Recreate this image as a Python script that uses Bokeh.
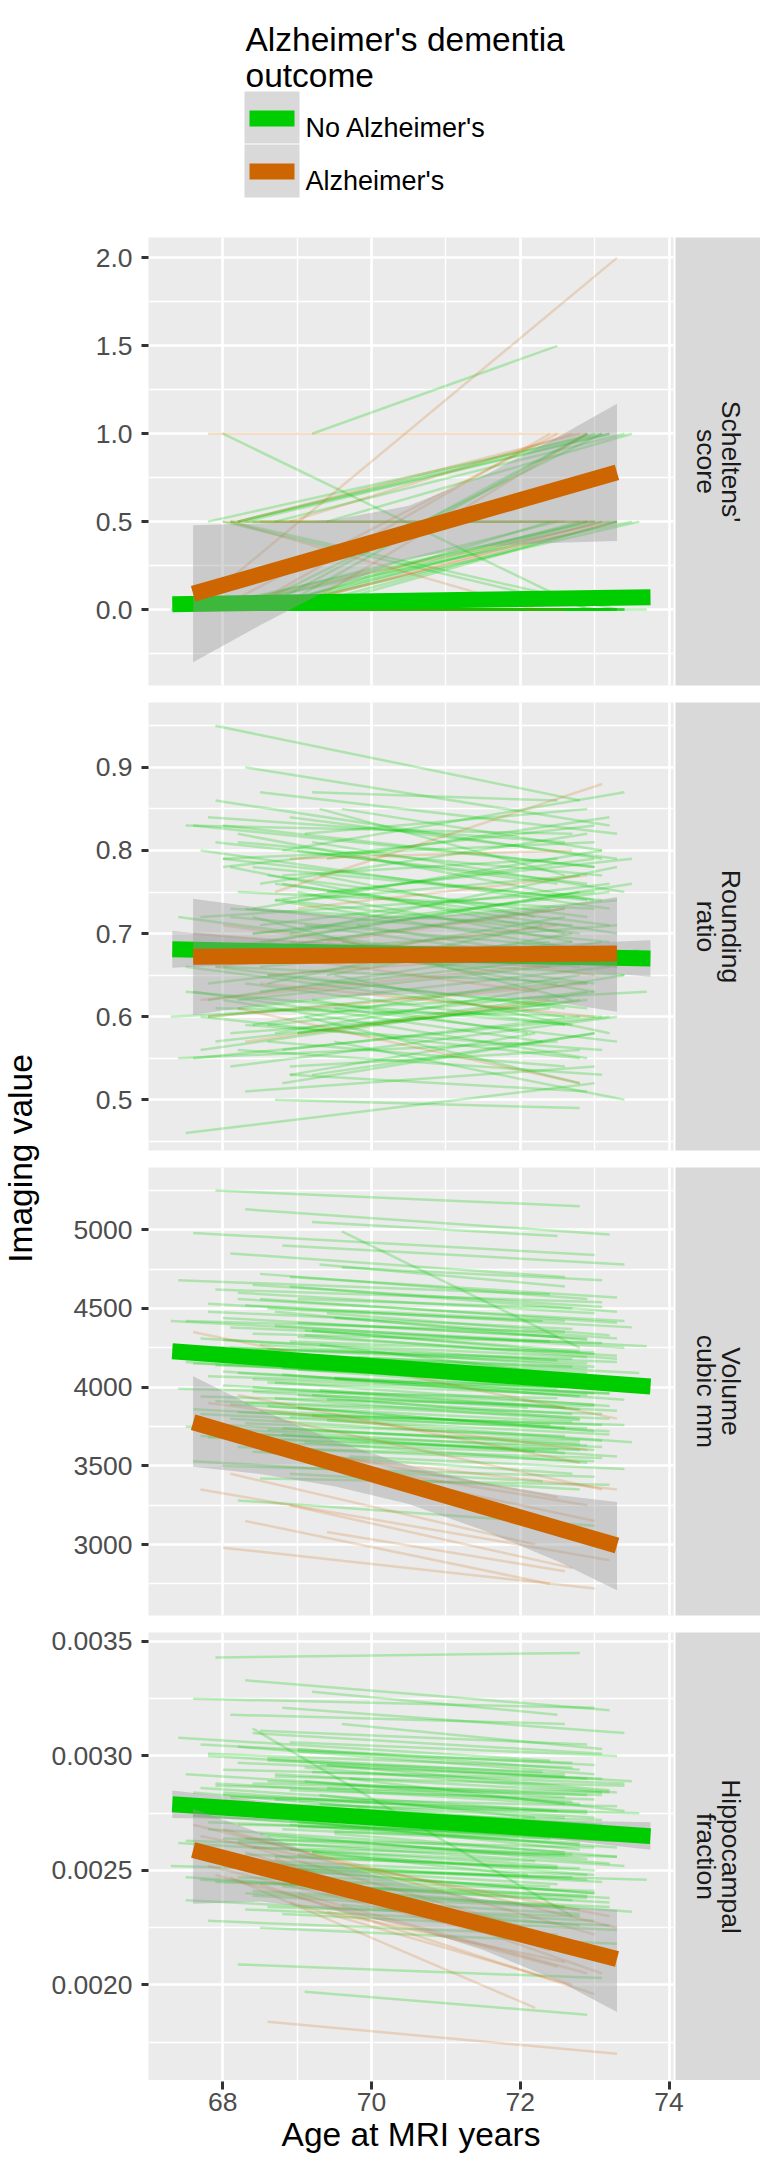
import math
from bokeh.plotting import figure
from bokeh.layouts import column, row
from bokeh.models import Range1d, FixedTicker, Label, PrintfTickFormatter
from bokeh.embed import file_html
from bokeh.resources import INLINE

FONT = "Liberation Sans"
GREEN = "#00CD00"
ORANGE = "#CD6600"
PANEL_BG = "#EBEBEB"
STRIP_BG = "#D9D9D9"
KEY_BG = "#D9D9D9"

# ---------------- data ----------------
GROUPS = ["No Alzheimer's", "Alzheimer's"]
LEGEND_TITLE = ["Alzheimer's dementia", "outcome"]
X_TITLE = "Age at MRI years"
Y_TITLE = "Imaging value"
X_TICKS = [68, 70, 72, 74]
X_MINOR = [67, 69, 71, 73]
X_LIMITS = (67.0, 74.06)

# ages at first / last MRI per participant
AGE_START_NO = [67.9, 68.3, 69.2, 67.6, 68.8, 68.1, 69.6, 68.5, 67.4, 68.9,
                68.2, 69.0, 67.8, 68.6, 69.4, 68.0, 67.5, 68.7, 69.1, 68.4,
                67.7, 68.9, 69.3, 68.1, 67.9, 68.5, 69.8, 68.3, 67.6, 68.8,
                69.0, 68.2, 67.8, 69.5, 68.6, 68.0, 67.4, 68.4, 69.2, 68.7,
                67.9, 68.1, 69.0, 68.5, 67.7, 68.9, 69.4, 68.3, 67.5, 68.6,
                68.8, 67.8, 69.1, 68.2, 68.4, 69.7, 67.6, 68.0, 68.9, 68.5,
                69.3, 67.9, 68.7, 68.1, 69.0, 67.5, 68.3, 68.8, 69.5, 68.4,
                67.7, 68.6, 69.2, 68.0, 67.8, 68.9, 68.2, 69.6, 68.5, 67.3,
                68.4, 67.8, 69.1, 68.6, 68.0, 69.3, 67.6, 68.8, 68.2, 69.0,
                68.5, 67.9, 68.7, 69.4, 68.1, 67.7, 68.9, 68.3, 69.2, 68.6,
                67.5, 68.4, 69.0, 68.2, 67.9, 68.7, 69.5, 68.0, 68.8, 68.3]
AGE_END_NO = [72.8, 73.2, 72.5, 73.0, 73.4, 72.6, 73.1, 72.9, 72.4, 73.3,
              73.0, 72.7, 73.5, 72.3, 73.2, 72.9, 72.6, 73.4, 72.8, 73.1,
              72.5, 73.0, 72.2, 73.3, 72.9, 73.6, 72.7, 73.1, 72.4, 73.0,
              72.8, 73.2, 72.6, 73.4, 72.9, 73.0, 72.5, 73.3, 72.1, 72.8,
              73.1, 72.7, 73.0, 72.4, 73.2, 72.9, 73.5, 72.6, 73.0, 72.8,
              73.3, 72.5, 72.9, 73.1, 72.7, 73.4, 72.3, 73.0, 72.8, 73.2,
              72.6, 73.1, 72.9, 72.4, 73.3, 72.7, 73.0, 72.5, 73.2, 72.8,
              73.0, 72.6, 73.4, 72.9, 73.1, 72.2, 73.0, 72.8, 73.3, 73.7,
              73.1, 72.7, 73.3, 72.9, 73.0, 72.6, 73.2, 72.8, 73.4, 72.5,
              73.0, 72.9, 73.2, 72.7, 73.1, 72.8, 73.3, 72.6, 73.0, 72.9,
              72.7, 73.2, 72.8, 73.1, 72.6, 73.0, 73.3, 72.9, 72.8, 73.2]
AGE_START_AD = [67.6, 68.2, 68.7, 67.9, 68.5, 69.0, 68.1, 67.7, 68.9, 68.3, 69.4, 68.0, 68.6, 67.8]
AGE_END_AD = [73.3, 72.8, 73.1, 72.5, 73.0, 72.9, 72.2, 73.2, 72.7, 72.4, 72.6, 73.0, 73.3, 72.9]

# Scheltens' score
SCH_START_NO = [0, 0.5, 1.0, 0, 0, 0.5, 0, 0, 0, 0,
                0.5, 0, 0, 0, 0, 1.0, 0, 0.5, 0, 0,
                0, 0, 0, 0.5, 0, 0, 0, 0, 0, 0,
                0, 0.5, 0, 0, 0, 0, 0, 0.5, 0, 0,
                0, 0, 0, 0, 0, 0, 0.5, 0, 0, 0,
                0, 0, 0, 0, 0, 0, 0, 0.5, 0, 0,
                0, 0, 0, 0, 0, 0, 0, 0, 0, 0,
                0, 0, 0, 0, 0.5, 0, 0, 0, 0, 0,
                0, 0, 0, 0, 0, 0, 0, 0, 0, 0,
                0, 0, 0, 0, 0, 0, 0, 0, 0, 0,
                0, 0, 0, 0, 0, 0, 0, 0, 0, 0]
SCH_END_NO = [0, 1.0, 1.5, 0.5, 0, 0.5, 0, 1.0, 0, 0.5,
              1.0, 0, 0.5, 0, 0, 0, 0, 1.0, 0, 0.5,
              0, 0, 0, 0, 0, 0.5, 0, 1.0, 0, 0,
              0, 1.0, 0, 0, 0.5, 0, 0, 0.5, 0, 0,
              0, 0, 0, 0.5, 0, 0, 1.0, 0, 0, 0,
              0, 0.5, 0, 0, 0, 0, 0, 0, 0, 0,
              0, 0, 1.0, 0, 0, 0, 0, 0, 0, 0.5,
              0, 0, 0, 0, 1.0, 0, 0, 0, 0, 0,
              0, 0, 0.5, 0, 0, 0, 0, 0, 0, 0,
              0, 0.5, 0, 0, 0, 0, 0, 0, 0, 0,
              0, 0, 0, 0, 0, 0, 0, 0, 0, 0]
SCH_START_AD = [0, 0.5, 0, 0, 0.5, 0, 0.5, 0, 0.5, 0, 0, 0.5, 0, 1.0]
SCH_END_AD = [2.0, 1.0, 0.5, 1.0, 0.5, 1.0, 0.0, 0.5, 1.0, 1.0, 0, 0.5, 0.5, 1.0]

# Rounding ratio
RND_START_NO = [0.95, 0.90, 0.87, 0.83, 0.80, 0.78, 0.85, 0.76, 0.72, 0.70,
                0.82, 0.75, 0.68, 0.64, 0.79, 0.62, 0.66, 0.58, 0.60, 0.73,
                0.56, 0.69, 0.77, 0.54, 0.81, 0.63, 0.71, 0.59, 0.67, 0.52,
                0.74, 0.61, 0.84, 0.57, 0.65, 0.78, 0.55, 0.70, 0.62, 0.50,
                0.86, 0.73, 0.58, 0.66, 0.80, 0.53, 0.75, 0.64, 0.46, 0.69,
                0.76, 0.60, 0.82, 0.56, 0.72, 0.67, 0.63, 0.79, 0.54, 0.71,
                0.85, 0.61, 0.74, 0.58, 0.68, 0.83, 0.51, 0.77, 0.65, 0.59,
                0.72, 0.57, 0.81, 0.66, 0.62, 0.53, 0.75, 0.69, 0.87, 0.60,
                0.78, 0.64, 0.71, 0.59, 0.83, 0.67, 0.55, 0.74, 0.62, 0.80,
                0.69, 0.57, 0.76, 0.65, 0.72, 0.60, 0.84, 0.68, 0.53, 0.77,
                0.63, 0.70, 0.58, 0.81, 0.66, 0.74, 0.61, 0.79, 0.56, 0.73]
RND_END_NO = [0.86, 0.83, 0.86, 0.78, 0.87, 0.70, 0.80, 0.82, 0.66, 0.78,
              0.74, 0.69, 0.76, 0.71, 0.84, 0.55, 0.60, 0.65, 0.52, 0.80,
              0.62, 0.63, 0.72, 0.60, 0.76, 0.68, 0.67, 0.56, 0.73, 0.58,
              0.77, 0.66, 0.81, 0.50, 0.61, 0.83, 0.57, 0.74, 0.58, 0.49,
              0.79, 0.71, 0.63, 0.69, 0.73, 0.51, 0.79, 0.59, 0.52, 0.75,
              0.70, 0.64, 0.85, 0.53, 0.62, 0.65, 0.57, 0.81, 0.56, 0.76,
              0.77, 0.60, 0.68, 0.61, 0.71, 0.82, 0.54, 0.79, 0.58, 0.65,
              0.75, 0.54, 0.75, 0.64, 0.69, 0.58, 0.73, 0.66, 0.82, 0.63,
              0.74, 0.69, 0.66, 0.63, 0.78, 0.72, 0.60, 0.70, 0.67, 0.76,
              0.64, 0.62, 0.71, 0.70, 0.68, 0.55, 0.79, 0.73, 0.58, 0.72,
              0.59, 0.75, 0.62, 0.77, 0.61, 0.79, 0.57, 0.74, 0.60, 0.69]
RND_START_AD = [0.70, 0.61, 0.75, 0.66, 0.64, 0.73, 0.68, 0.62, 0.79, 0.57, 0.69, 0.71, 0.65, 0.60]
RND_END_AD = [0.66, 0.52, 0.88, 0.71, 0.60, 0.77, 0.63, 0.67, 0.80, 0.62, 0.73, 0.65, 0.68, 0.64]

# Hippocampal volume, cubic mm
VOL_START_NO = [5250, 5130, 5050, 4980, 4900, 4850, 4760, 4720, 4680, 4640,
                4600, 4560, 4530, 4500, 4470, 4440, 4420, 4390, 4360, 4340,
                4310, 4290, 4270, 4250, 4230, 4210, 4190, 4170, 4150, 4130,
                4110, 4090, 4070, 4050, 4030, 4010, 3990, 3970, 3950, 3930,
                3910, 3890, 3870, 3850, 3830, 3810, 3790, 3770, 3750, 3730,
                3700, 3680, 3650, 3620, 3590, 3560, 3530, 3500, 3450, 3420,
                4780, 4620, 4480, 4380, 4320, 4260, 4180, 4120, 4060, 4000,
                3940, 3880, 3820, 3760, 3710, 3640, 3280, 4990, 4560, 4420,
                4650, 4480, 4330, 4200, 4100, 3980, 3860, 3740, 4560, 4410,
                4270, 4140, 4030, 3920, 3800, 3690, 4700, 4520, 4360, 4240,
                4160, 4050, 3950, 3840, 3720, 3610, 4440, 4300, 4080, 3900]
VOL_END_NO = [5150, 4970, 4960, 4840, 4780, 4700, 4680, 4560, 4590, 4480,
              4470, 4500, 4380, 4420, 4330, 4310, 4350, 4250, 4230, 4280,
              4170, 4220, 4100, 4160, 4120, 4090, 4130, 4030, 4060, 4010,
              4050, 3960, 4000, 3920, 3950, 3890, 3930, 3850, 3870, 3790,
              3830, 3780, 3720, 3760, 3700, 3740, 3650, 3690, 3600, 3660,
              3560, 3600, 3520, 3550, 3450, 3480, 3400, 3430, 3350, 3380,
              4640, 4540, 4300, 4290, 4200, 4180, 4060, 3990, 3990, 3860,
              3880, 3740, 3760, 3630, 3620, 3590, 3120, 4250, 4410, 4260,
              4510, 4370, 4180, 4090, 3960, 3870, 3720, 3640, 4420, 4320,
              4130, 4040, 3880, 3830, 3660, 3600, 4570, 4420, 4210, 4150,
              4010, 3960, 3800, 3760, 3580, 3530, 4310, 4190, 3940, 3800]
VOL_START_AD = [4350, 3950, 3800, 3700, 3600, 3550, 3450, 3350, 3250, 3150, 3080, 2980, 3600, 3900]
VOL_END_AD = [3800, 3520, 3350, 3300, 3150, 3250, 3000, 2900, 2850, 2750, 2830, 2720, 3350, 3600]

# Hippocampal fraction
HIP_START_NO = [0.00343, 0.00333, 0.00328, 0.00325, 0.00321, 0.00318, 0.00314, 0.00311, 0.00308, 0.00306,
                0.00304, 0.00302, 0.00300, 0.00298, 0.00296, 0.00294, 0.00292, 0.00291, 0.00289, 0.00288,
                0.00286, 0.00285, 0.00283, 0.00282, 0.00280, 0.00279, 0.00277, 0.00276, 0.00274, 0.00273,
                0.00271, 0.00270, 0.00268, 0.00267, 0.00265, 0.00264, 0.00262, 0.00260, 0.00258, 0.00256,
                0.00254, 0.00252, 0.00250, 0.00248, 0.00246, 0.00244, 0.00242, 0.00240, 0.00237, 0.00234,
                0.00231, 0.00228, 0.00197, 0.00209, 0.00312, 0.00290, 0.00284, 0.00278, 0.00272, 0.00266,
                0.00296, 0.00287, 0.00281, 0.00275, 0.00269, 0.00263, 0.00257, 0.00251, 0.00245, 0.00239,
                0.00305, 0.00299, 0.00293, 0.00283, 0.00271, 0.00259, 0.00247, 0.00235, 0.00225, 0.00252,
                0.00310, 0.00301, 0.00295, 0.00289, 0.00284, 0.00279, 0.00274, 0.00268, 0.00263, 0.00257,
                0.00251, 0.00245, 0.00292, 0.00286, 0.00280, 0.00275, 0.00270, 0.00264, 0.00258, 0.00253,
                0.00247, 0.00241, 0.00303, 0.00297, 0.00288, 0.00277, 0.00266, 0.00255, 0.00243, 0.00233]
HIP_END_NO = [0.00345, 0.00320, 0.00318, 0.00321, 0.00310, 0.00314, 0.00303, 0.00305, 0.00298, 0.00300,
              0.00292, 0.00297, 0.00289, 0.00293, 0.00285, 0.00290, 0.00282, 0.00287, 0.00279, 0.00284,
              0.00276, 0.00281, 0.00273, 0.00278, 0.00270, 0.00275, 0.00267, 0.00272, 0.00264, 0.00269,
              0.00261, 0.00266, 0.00258, 0.00263, 0.00255, 0.00260, 0.00252, 0.00256, 0.00248, 0.00251,
              0.00245, 0.00247, 0.00240, 0.00243, 0.00236, 0.00238, 0.00232, 0.00234, 0.00228, 0.00230,
              0.00224, 0.00222, 0.00187, 0.00203, 0.00230, 0.00276, 0.00271, 0.00265, 0.00259, 0.00253,
              0.00291, 0.00283, 0.00276, 0.00270, 0.00264, 0.00257, 0.00250, 0.00244, 0.00238, 0.00231,
              0.00296, 0.00292, 0.00288, 0.00275, 0.00265, 0.00254, 0.00241, 0.00226, 0.00218, 0.00246,
              0.00301, 0.00295, 0.00284, 0.00283, 0.00273, 0.00273, 0.00263, 0.00262, 0.00252, 0.00251,
              0.00240, 0.00239, 0.00284, 0.00280, 0.00270, 0.00268, 0.00260, 0.00257, 0.00248, 0.00246,
              0.00237, 0.00234, 0.00294, 0.00290, 0.00279, 0.00270, 0.00256, 0.00248, 0.00233, 0.00226]
HIP_START_AD = [0.00270, 0.00262, 0.00255, 0.00248, 0.00244, 0.00240, 0.00247, 0.00265, 0.00236, 0.00258, 0.00232, 0.00268, 0.00184, 0.00252]
HIP_END_AD = [0.00225, 0.00218, 0.00205, 0.00208, 0.00196, 0.00205, 0.00190, 0.00230, 0.00200, 0.00215, 0.00210, 0.00222, 0.00170, 0.00212]

# group-level linear fits and confidence bands
FIT_X_NO = [67.32, 73.75]
FIT_X_AD = [67.6, 73.3]
BAND_X_NO = [67.32, 68.9, 70.5, 72.1, 73.75]
BAND_X_AD = [67.6, 68.5, 69.5, 70.5, 71.5, 72.5, 73.3]

SCH_FIT_NO = [0.03, 0.07]
SCH_FIT_AD = [0.09, 0.78]
SCH_LO_NO = [-0.005, 0.018, 0.032, 0.038, 0.035]
SCH_HI_NO = [0.065, 0.062, 0.068, 0.082, 0.105]
SCH_LO_AD = [-0.30, -0.09, 0.13, 0.29, 0.36, 0.38, 0.39]
SCH_HI_AD = [0.48, 0.49, 0.51, 0.59, 0.76, 0.98, 1.17]

RND_FIT_NO = [0.681, 0.670]
RND_FIT_AD = [0.672, 0.676]
RND_LO_NO = [0.659, 0.665, 0.6655, 0.660, 0.648]
RND_HI_NO = [0.703, 0.691, 0.6855, 0.686, 0.692]
RND_LO_AD = [0.602, 0.614, 0.624, 0.627, 0.625, 0.617, 0.606]
RND_HI_AD = [0.742, 0.731, 0.722, 0.720, 0.724, 0.733, 0.744]

VOL_FIT_NO = [4228, 4004]
VOL_FIT_AD = [3777, 2994]
VOL_LO_NO = [4183, 4145, 4095, 4033, 3959]
VOL_HI_NO = [4273, 4201, 4139, 4089, 4049]
VOL_LO_AD = [3495, 3448, 3371, 3257, 3091, 2894, 2710]
VOL_HI_AD = [4070, 3858, 3661, 3501, 3391, 3314, 3270]

HIP_FIT_NO = [0.002789, 0.00265]
HIP_FIT_AD = [0.002589, 0.002113]
HIP_LO_NO = [0.002729, 0.00272, 0.00269, 0.00265, 0.00259]
HIP_HI_NO = [0.002849, 0.00279, 0.00275, 0.00272, 0.00271]
HIP_LO_AD = [0.002355, 0.002364, 0.002325, 0.002257, 0.002153, 0.00202, 0.001882]
HIP_HI_AD = [0.00277, 0.002664, 0.002535, 0.002437, 0.002373, 0.00234, 0.002328]

PANELS = [
    dict(strip=["Scheltens'", "score"], ylim=(-0.432, 2.116),
         yticks=[0.0, 0.5, 1.0, 1.5, 2.0], yminor=[-0.25, 0.25, 0.75, 1.25, 1.75], fmt="%.1f",
         s_no=SCH_START_NO, e_no=SCH_END_NO, s_ad=SCH_START_AD, e_ad=SCH_END_AD,
         fit_no=SCH_FIT_NO, fit_ad=SCH_FIT_AD, lo_no=SCH_LO_NO, hi_no=SCH_HI_NO,
         lo_ad=SCH_LO_AD, hi_ad=SCH_HI_AD),
    dict(strip=["Rounding", "ratio"], ylim=(0.439, 0.978),
         yticks=[0.5, 0.6, 0.7, 0.8, 0.9], yminor=[0.45, 0.55, 0.65, 0.75, 0.85, 0.95], fmt="%.1f",
         s_no=RND_START_NO, e_no=RND_END_NO, s_ad=RND_START_AD, e_ad=RND_END_AD,
         fit_no=RND_FIT_NO, fit_ad=RND_FIT_AD, lo_no=RND_LO_NO, hi_no=RND_HI_NO,
         lo_ad=RND_LO_AD, hi_ad=RND_HI_AD),
    dict(strip=["Volume", "cubic mm"], ylim=(2549, 5396),
         yticks=[3000, 3500, 4000, 4500, 5000], yminor=[2750, 3250, 3750, 4250, 4750, 5250], fmt="%d",
         s_no=VOL_START_NO, e_no=VOL_END_NO, s_ad=VOL_START_AD, e_ad=VOL_END_AD,
         fit_no=VOL_FIT_NO, fit_ad=VOL_FIT_AD, lo_no=VOL_LO_NO, hi_no=VOL_HI_NO,
         lo_ad=VOL_LO_AD, hi_ad=VOL_HI_AD),
    dict(strip=["Hippocampal", "fraction"], ylim=(0.001583, 0.003539),
         yticks=[0.0020, 0.0025, 0.0030, 0.0035], yminor=[0.00175, 0.00225, 0.00275, 0.00325], fmt="%.4f",
         s_no=HIP_START_NO, e_no=HIP_END_NO, s_ad=HIP_START_AD, e_ad=HIP_END_AD,
         fit_no=HIP_FIT_NO, fit_ad=HIP_FIT_AD, lo_no=HIP_LO_NO, hi_no=HIP_HI_NO,
         lo_ad=HIP_LO_AD, hi_ad=HIP_HI_AD),
]

# ---------------- layout constants (px) ----------------
FRAME_W, FRAME_H = 525, 448
PAD_TOP, PAD_BOTTOM = 9, 8          # white space above / below each panel
YLAB_W, LEFT_BORDER = 40, 108
STRIP_W = 85
LEGEND_H = 228
TICK_FONT = "26.5px"


def bare(fig):
    fig.grid.visible = False
    fig.outline_line_color = None
    fig.border_fill_color = "white"


def style_axis(ax, tick_out):
    ax.axis_line_color = None
    ax.major_tick_line_color = "#333333"
    ax.major_tick_line_width = 3
    ax.major_tick_in = 0
    ax.major_tick_out = tick_out
    ax.minor_tick_line_color = None
    ax.major_label_text_font = FONT
    ax.major_label_text_font_size = TICK_FONT
    ax.major_label_text_color = "#4D4D4D"


def build_panel(spec, last):
    p = figure(output_backend="svg", toolbar_location=None,
               frame_width=FRAME_W, frame_height=FRAME_H,
               x_range=Range1d(*X_LIMITS), y_range=Range1d(*spec["ylim"]),
               min_border_left=LEFT_BORDER, min_border_right=2, min_border_top=PAD_TOP,
               min_border_bottom=0 if last else PAD_BOTTOM)
    p.background_fill_color = PANEL_BG
    p.border_fill_color = "white"
    p.outline_line_color = None

    p.xaxis.ticker = FixedTicker(ticks=X_TICKS, minor_ticks=X_MINOR)
    p.xaxis.visible = False
    p.yaxis.ticker = FixedTicker(ticks=spec["yticks"], minor_ticks=spec["yminor"])
    p.yaxis.formatter = PrintfTickFormatter(format=spec["fmt"])
    style_axis(p.yaxis, 7)
    p.yaxis.major_label_standoff = 9

    for g in (p.xgrid, p.ygrid):
        g.grid_line_color = "white"
        g.grid_line_width = 2.7
        g.minor_grid_line_color = "white"
        g.minor_grid_line_width = 1.4

    # individual trajectories
    p.multi_line(xs=[[a, b] for a, b in zip(AGE_START_NO, AGE_END_NO)],
                 ys=[[a, b] for a, b in zip(spec["s_no"], spec["e_no"])],
                 line_color=GREEN, line_alpha=0.26, line_width=2.5)
    p.multi_line(xs=[[a, b] for a, b in zip(AGE_START_AD, AGE_END_AD)],
                 ys=[[a, b] for a, b in zip(spec["s_ad"], spec["e_ad"])],
                 line_color=ORANGE, line_alpha=0.2, line_width=2.5)
    # group fits with confidence bands
    p.varea(x=BAND_X_NO, y1=spec["lo_no"], y2=spec["hi_no"], fill_color="#999999", fill_alpha=0.4)
    p.line(x=FIT_X_NO, y=spec["fit_no"], line_color=GREEN, line_width=16)
    p.varea(x=BAND_X_AD, y1=spec["lo_ad"], y2=spec["hi_ad"], fill_color="#999999", fill_alpha=0.4)
    p.line(x=FIT_X_AD, y=spec["fit_ad"], line_color=ORANGE, line_width=16)
    return p


def build_strip(lines, last):
    s = figure(output_backend="svg", toolbar_location=None,
               frame_width=STRIP_W, frame_height=FRAME_H,
               x_range=Range1d(0, STRIP_W), y_range=Range1d(0, FRAME_H),
               x_axis_location=None, y_axis_location=None,
               min_border_left=0, min_border_right=0, min_border_top=PAD_TOP,
               min_border_bottom=0 if last else PAD_BOTTOM)
    bare(s)
    s.background_fill_color = STRIP_BG
    for x, txt in zip([55, 30], lines):
        s.add_layout(Label(x=x, y=FRAME_H / 2, text=txt, angle=-math.pi / 2,
                           text_align="center", text_baseline="middle",
                           text_font=FONT, text_font_size=TICK_FONT, text_color="#1A1A1A"))
    return s


def build_xaxis():
    a = figure(output_backend="svg", toolbar_location=None,
               frame_width=FRAME_W, frame_height=1,
               x_range=Range1d(*X_LIMITS), y_range=Range1d(0, 1),
               y_axis_location=None,
               min_border_left=LEFT_BORDER, min_border_right=87, min_border_top=0,
               min_border_bottom=0)
    bare(a)
    a.background_fill_color = "white"
    a.xaxis.ticker = FixedTicker(ticks=X_TICKS, minor_ticks=X_MINOR)
    style_axis(a.xaxis, 8)
    a.xaxis.major_label_standoff = 3
    a.xaxis.axis_label = X_TITLE
    a.xaxis.axis_label_text_font = FONT
    a.xaxis.axis_label_text_font_size = "33.5px"
    a.xaxis.axis_label_text_font_style = "normal"
    a.xaxis.axis_label_text_color = "black"
    a.xaxis.axis_label_standoff = 2
    return a


# legend
leg = figure(output_backend="svg", toolbar_location=None,
             frame_width=YLAB_W + LEFT_BORDER + FRAME_W + 2 + STRIP_W, frame_height=LEGEND_H,
             x_range=Range1d(0, 760), y_range=Range1d(LEGEND_H, 0),
             x_axis_location=None, y_axis_location=None, min_border=0)
bare(leg)
leg.background_fill_color = "white"
for i, t in enumerate(LEGEND_TITLE):
    leg.add_layout(Label(x=245, y=39 + 36 * i, text=t, text_baseline="alphabetic",
                         text_font=FONT, text_font_size="33.5px", text_color="black"))
leg.quad(left=[244, 244], right=[299, 299], top=[91, 144], bottom=[143, 197],
         fill_color=KEY_BG, line_color=None)
leg.segment(x0=[249, 249], x1=[294, 294], y0=[118, 171], y1=[118, 171],
            line_color=[GREEN, ORANGE], line_width=16)
for i, g in enumerate(GROUPS):
    leg.add_layout(Label(x=305, y=127 + 53 * i, text=g, text_baseline="alphabetic",
                         text_font=FONT, text_font_size="27px", text_color="black"))

# y title column
col_h = 4 * (FRAME_H + PAD_TOP) + 3 * PAD_BOTTOM
ylab = figure(output_backend="svg", toolbar_location=None,
              frame_width=YLAB_W, frame_height=col_h,
              x_range=Range1d(0, YLAB_W), y_range=Range1d(col_h, 0),
              x_axis_location=None, y_axis_location=None, min_border=0)
bare(ylab)
ylab.background_fill_color = "white"
ylab.add_layout(Label(x=19.5, y=930, text=Y_TITLE, angle=math.pi / 2,
                      text_align="center", text_baseline="middle",
                      text_font=FONT, text_font_size="33.5px", text_color="black"))

rows = []
for i, spec in enumerate(PANELS):
    last = i == len(PANELS) - 1
    rows.append(row(build_panel(spec, last), build_strip(spec["strip"], last)))
rows.append(build_xaxis())

layout = column(leg, row(ylab, column(*rows)))

open("out.html", "w").write(file_html(layout, INLINE))
